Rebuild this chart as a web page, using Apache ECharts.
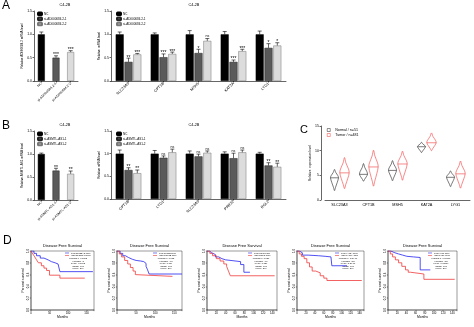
<!DOCTYPE html>
<html><head><meta charset="utf-8">
<script src="https://cdn.jsdelivr.net/npm/echarts@6/dist/echarts.min.js"></script>
<style>html,body{margin:0;padding:0;background:#fff}#c{width:474px;height:327px}</style>
</head><body><div id="c"></div>
<script>
// ---------- DATA ----------
const A1_groups = ['NC', 'si-AD000684.2-1', 'si-AD000684.2-2'];
const A1_mean = [1.00, 0.50, 0.62];
const A1_err = [0.05, 0.04, 0.03];
const A1_sig = ['', '***', '***'];

const A2_genes = ['SLC23A3', 'CPT1B', 'MSH5', 'KAT2A', 'LYG1'];
const A2_nc = [1.00, 1.00, 1.00, 1.00, 1.00];
const A2_nc_err = [0.05, 0.03, 0.08, 0.06, 0.07];
const A2_si1 = [0.41, 0.51, 0.60, 0.41, 0.71];
const A2_si1_err = [0.08, 0.07, 0.08, 0.04, 0.09];
const A2_si1_sig = ['**', '***', '*', '***', '*'];
const A2_si2 = [0.57, 0.58, 0.86, 0.64, 0.76];
const A2_si2_err = [0.02, 0.04, 0.05, 0.04, 0.06];
const A2_si2_sig = ['***', '***', 'ns', '***', '*'];

const B1_groups = ['NC', 'si-ASMTL-AS1-1', 'si-ASMTL-AS1-2'];
const B1_mean = [1.00, 0.64, 0.57];
const B1_err = [0.02, 0.05, 0.06];
const B1_sig = ['', '**', '**'];

const B2_genes = ['CPT1B', 'LYG1', 'SLC23A3', 'PRR22', 'RGL2'];
const B2_nc = [1.00, 1.00, 1.00, 1.00, 1.00];
const B2_nc_err = [0.08, 0.07, 0.06, 0.04, 0.03];
const B2_si1 = [0.64, 0.91, 0.94, 0.90, 0.74];
const B2_si1_err = [0.05, 0.04, 0.05, 0.11, 0.06];
const B2_si1_sig = ['**', 'ns', 'ns', 'ns', '**'];
const B2_si2 = [0.57, 1.03, 1.02, 1.03, 0.71];
const B2_si2_err = [0.07, 0.07, 0.04, 0.05, 0.08];
const B2_si2_sig = ['**', 'ns', 'ns', 'ns', '**'];

const C_genes = ['SLC23A3', 'CPT1B', 'MSH5', 'KAT2A', 'LYG1'];
const C_normal_min = [1.9, 3.8, 3.9, 9.6, 2.7];
const C_normal_med = [4.5, 5.2, 6.0, 10.8, 4.6];
const C_normal_max = [6.2, 7.4, 8.0, 11.7, 5.9];
const C_tumor_min = [2.3, 2.8, 4.0, 10.0, 2.4];
const C_tumor_med = [5.5, 6.7, 7.3, 11.6, 5.3];
const C_tumor_max = [8.6, 10.1, 9.9, 13.6, 7.9];
const C_ticks = [0, 5, 10, 15];

const D_genes = ['SLC23A3', 'CPT1B', 'MSH5', 'KAT2A', 'LYG1'];
const D_stats = [
  'Logrank p=0.0052\nHR(high)=2\np(HR)=0.0062\nn(high)=246\nn(low)=246',
  'Logrank p=0.013\nHR(high)=1.8\np(HR)=0.014\nn(high)=246\nn(low)=246',
  'Logrank p=0.037\nHR(high)=1.6\np(HR)=0.039\nn(high)=246\nn(low)=246',
  'Logrank p=1.2e-07\nHR(high)=3.3\np(HR)=5.3e-07\nn(high)=246\nn(low)=246',
  'Logrank p=0.00061\nHR(high)=2.3\np(HR)=0.00089\nn(high)=246\nn(low)=246'
];
const D1_low = [[0,1],[8,0.96],[15,0.92],[25,0.88],[35,0.85],[46,0.82],[55,0.8],[65,0.78],[73,0.76],[78,0.65],[167,0.65]];
const D1_high = [[0,1],[5,0.95],[10,0.9],[15,0.85],[20,0.8],[28,0.75],[35,0.71],[42,0.67],[50,0.59],[78,0.54],[145,0.54]];
const D2_low = [[0,1],[8,0.96],[15,0.92],[22,0.89],[30,0.86],[40,0.84],[50,0.83],[62,0.82],[70,0.79],[76,0.74],[80,0.68],[84,0.61],[170,0.61]];
const D2_high = [[0,1],[6,0.95],[12,0.9],[20,0.84],[28,0.78],[35,0.72],[42,0.66],[48,0.6],[52,0.57],[145,0.57]];
const D3_low = [[0,1],[5,0.97],[10,0.94],[18,0.9],[25,0.87],[32,0.85],[40,0.82],[72,0.77],[79,0.64],[92,0.64]];
const D3_high = [[0,1],[6,0.96],[12,0.92],[20,0.87],[28,0.83],[36,0.78],[42,0.74],[46,0.66],[50,0.58],[145,0.58]];
const D4_low = [[0,1],[5,0.97],[12,0.93],[25,0.92],[48,0.91],[63,0.9],[76,0.88],[78,0.75],[112,0.75]];
const D4_high = [[0,1],[5,0.95],[10,0.91],[16,0.87],[22,0.8],[28,0.73],[34,0.66],[42,0.63],[52,0.58],[60,0.54],[67,0.5],[145,0.5]];
const D5_low = [[0,1],[6,0.97],[15,0.95],[23,0.93],[32,0.91],[41,0.9],[55,0.89],[70,0.68],[92,0.68]];
const D5_high = [[0,1],[5,0.95],[10,0.9],[16,0.85],[23,0.8],[30,0.74],[38,0.68],[44,0.64],[49,0.61],[78,0.52],[145,0.52]];
const D_low = [D1_low, D2_low, D3_low, D4_low, D5_low];
const D_high = [D1_high, D2_high, D3_high, D4_high, D5_high];

// ---------- LAYOUT / STYLE ----------
const FONT = 'Arial, "Liberation Sans", sans-serif';
const BAR_FILL = ['#000000', '#5a5a5a', '#dcdcdc'];
const BAR_BORDER = ['#000000', '#222222', '#777777'];
const BLUE = '#2424f0', RED = '#f03a3a';

const grids = [
  {left: 34, top: 11, width: 44, height: 70},    // A1
  {left: 111, top: 11, width: 175, height: 70},  // A2
  {left: 34, top: 131, width: 44, height: 69},   // B1
  {left: 111, top: 131, width: 175, height: 68}, // B2
  {left: 325, top: 126, width: 145, height: 74}  // C
];
const KM = [
  {left: 31, width: 63, max: 170, interval: 50},
  {left: 117, width: 65, max: 170, interval: 50},
  {left: 207, width: 70, max: 150, interval: 20},
  {left: 297, width: 67, max: 150, interval: 20},
  {left: 388, width: 69, max: 150, interval: 20}
];
KM.forEach(k => grids.push({left: k.left, top: 251, width: k.width, height: 59, show: true, borderColor: '#000', borderWidth: 0.4}));

const xAxes = [], yAxes = [], series = [], legends = [], graphics = [];

function barY(gi, name, gap) {
  return {type: 'value', gridIndex: gi, min: 0, max: 1.5, interval: 0.5,
    name: name, nameLocation: 'middle', nameGap: gap,
    nameTextStyle: {fontSize: 3, fontFamily: FONT, color: '#000'},
    axisLine: {show: true, lineStyle: {color: '#000', width: 0.6}},
    axisTick: {show: true, length: 1.5, lineStyle: {color: '#000', width: 0.6}},
    axisLabel: {fontSize: 3.5, margin: 2, color: '#000', fontFamily: FONT, formatter: v => v.toFixed(1)},
    splitLine: {show: false}};
}
function barX(gi, cats, fs) {
  return {type: 'category', gridIndex: gi, data: cats,
    axisLine: {lineStyle: {color: '#000', width: 0.6}},
    axisTick: {show: true, alignWithLabel: true, length: 1.5, lineStyle: {color: '#000', width: 0.6}},
    axisLabel: {rotate: 45, fontSize: fs, margin: 2, color: '#000', fontFamily: FONT, interval: 0}};
}
function errSeries(ai, means, errs, sigs, offset) {
  return {type: 'custom', xAxisIndex: ai, yAxisIndex: ai, z: 5, silent: true,
    data: means.map((m, i) => m === '-' ? null : [i, m, errs[i]]).filter(d => d),
    renderItem: (params, api) => {
      const i = api.value(0), m = api.value(1), e = api.value(2);
      const p0 = api.coord([i, m]), p1 = api.coord([i, m + e]);
      const x = p0[0] + offset, cap = 2;
      const ch = [
        {type: 'line', shape: {x1: x, y1: p0[1], x2: x, y2: p1[1]}, style: {stroke: '#000', lineWidth: 0.6}},
        {type: 'line', shape: {x1: x - cap, y1: p1[1], x2: x + cap, y2: p1[1]}, style: {stroke: '#000', lineWidth: 0.6}}
      ];
      const s = sigs[i];
      if (s) {
        const star = s !== 'ns';
        ch.push({type: 'text', x: x, y: p1[1] + (star ? 1.6 : -0.4),
          style: {text: s, fontSize: star ? 5 : 3.6, fontFamily: FONT, fill: '#000', align: 'center', verticalAlign: 'bottom'}});
      }
      return {type: 'group', children: ch};
    }};
}

function singlePanel(ai, cats, means, errs, sigs, yname, title) {
  xAxes.push(barX(ai, cats, 3.4));
  yAxes.push(barY(ai, yname, 9));
  cats.forEach((c, k) => {
    series.push({type: 'bar', name: c, xAxisIndex: ai, yAxisIndex: ai, barWidth: 7, barGap: '-100%',
      itemStyle: {color: BAR_FILL[k], borderColor: BAR_BORDER[k], borderWidth: 0.5},
      data: means.map((v, j) => j === k ? v : '-')});
  });
  series.push(errSeries(ai, means, errs, sigs, 0));
  legends.push({left: grids[ai].left + 3, top: grids[ai].top + 0.5, orient: 'vertical', padding: 0,
    itemWidth: 4, itemHeight: 2.6, itemGap: 0.5, selectedMode: false,
    textStyle: {fontSize: 3, fontFamily: FONT, color: '#000', padding: [0, 0, 0, -3]}, data: cats});
  graphics.push({type: 'text', x: grids[ai].left + 31, y: grids[ai].top - 8,
    style: {text: title, fontSize: 3.8, fontFamily: FONT, fill: '#000', align: 'center'}});
}
function groupPanel(ai, genes, names, vals, errs, sigs, yname, title) {
  xAxes.push(barX(ai, genes, 3.8));
  yAxes.push(barY(ai, yname, 9));
  const bw = 8;
  names.forEach((n, k) => {
    series.push({type: 'bar', name: n, xAxisIndex: ai, yAxisIndex: ai, barWidth: bw, barGap: '10%',
      itemStyle: {color: BAR_FILL[k], borderColor: BAR_BORDER[k], borderWidth: 0.5}, data: vals[k]});
  });
  names.forEach((n, k) => series.push(errSeries(ai, vals[k], errs[k], sigs[k], (k - 1) * bw * 1.1)));
  legends.push({left: grids[ai].left + 5, top: grids[ai].top + 0.5, orient: 'vertical', padding: 0,
    itemWidth: 4, itemHeight: 2.6, itemGap: 0.5, selectedMode: false,
    textStyle: {fontSize: 3, fontFamily: FONT, color: '#000', padding: [0, 0, 0, -3]}, data: names});
  graphics.push({type: 'text', x: 194, y: grids[ai].top - 8,
    style: {text: title, fontSize: 3.8, fontFamily: FONT, fill: '#000', align: 'center'}});
}

singlePanel(0, A1_groups, A1_mean, A1_err, A1_sig, 'Relative AD000684.2 mRNA level', 'C4-2B');
groupPanel(1, A2_genes, A1_groups, [A2_nc, A2_si1, A2_si2], [A2_nc_err, A2_si1_err, A2_si2_err],
  [['', '', '', '', ''], A2_si1_sig, A2_si2_sig], 'Relative  mRNA level', 'C4-2B');
singlePanel(2, B1_groups, B1_mean, B1_err, B1_sig, 'Relative ASMTL-AS1 mRNA level', 'C4-2B');
groupPanel(3, B2_genes, B1_groups, [B2_nc, B2_si1, B2_si2], [B2_nc_err, B2_si1_err, B2_si2_err],
  [['', '', '', '', ''], B2_si1_sig, B2_si2_sig], 'Relative mRNA level', 'C4-2B');

// ---- Panel C: violins ----
xAxes.push({type: 'category', gridIndex: 4, data: C_genes,
  axisLine: {lineStyle: {color: '#000', width: 0.6}}, axisTick: {show: false},
  axisLabel: {fontSize: 3.8, margin: 3, color: '#000', fontFamily: FONT, interval: 0}});
yAxes.push({type: 'value', gridIndex: 4, min: 0, max: 15, interval: 5, offset: 4,
  name: 'Relative  expression level', nameLocation: 'middle', nameGap: 8,
  nameTextStyle: {fontSize: 3.2, fontFamily: FONT, color: '#000'},
  axisLine: {show: true, lineStyle: {color: '#000', width: 0.6}},
  axisTick: {show: true, length: 1.5, lineStyle: {color: '#000', width: 0.6}},
  axisLabel: {fontSize: 3.5, margin: 2, color: '#000', fontFamily: FONT,
    formatter: v => C_ticks.indexOf(v) >= 0 ? String(v) : ''},
  splitLine: {show: false}});
function violin(name, mins, meds, maxs, offset, color, w) {
  return {type: 'custom', name: name, xAxisIndex: 4, yAxisIndex: 4, silent: true,
    itemStyle: {color: '#fff', borderColor: color},
    data: mins.map((v, i) => [i, v, meds[i], maxs[i]]),
    renderItem: (params, api) => {
      const i = api.value(0), lo = api.value(1), md = api.value(2), hi = api.value(3);
      const cx = api.coord([i, md])[0] + offset;
      const y = v => api.coord([i, v])[1];
      const right = [[cx, y(hi)], [cx + 0.3 * w, y(md + 0.65 * (hi - md))], [cx + 0.85 * w, y(md + 0.25 * (hi - md))],
        [cx + w, y(md)], [cx + 0.7 * w, y(md - 0.35 * (md - lo))], [cx + 0.25 * w, y(md - 0.75 * (md - lo))], [cx, y(lo)]];
      const left = right.slice(1, -1).reverse().map(p => [2 * cx - p[0], p[1]]);
      return {type: 'group', children: [
        {type: 'polygon', shape: {points: right.concat(left), smooth: 0.35}, style: {fill: 'none', stroke: color, lineWidth: 0.6}},
        {type: 'line', shape: {x1: cx - w, y1: y(md), x2: cx + w, y2: y(md)}, style: {stroke: color, lineWidth: 0.6}}
      ]};
    }};
}
series.push(violin('Normal / n=51', C_normal_min, C_normal_med, C_normal_max, -5, '#222', 4));
series.push(violin('Tumor / n=481', C_tumor_min, C_tumor_med, C_tumor_max, 5, RED, 4.7));
legends.push({left: 327, top: 128, orient: 'vertical', padding: 0, itemWidth: 3, itemHeight: 3, itemGap: 1,
  selectedMode: false, textStyle: {fontSize: 3.6, fontFamily: FONT, color: '#000'},
  data: [{name: 'Normal / n=51', icon: 'rect', itemStyle: {color: '#fff', borderColor: '#222', borderWidth: 0.5}},
         {name: 'Tumor / n=481', icon: 'rect', itemStyle: {color: '#fff', borderColor: RED, borderWidth: 0.5}}]});

// ---- Panel D: Kaplan-Meier ----
KM.forEach((k, n) => {
  const gi = 5 + n;
  xAxes.push({type: 'value', gridIndex: gi, min: 0, max: k.max, interval: k.interval,
    name: 'Months', nameLocation: 'middle', nameGap: 6,
    nameTextStyle: {fontSize: 3.4, fontFamily: FONT, color: '#000'},
    axisLine: {onZero: false, lineStyle: {color: '#000', width: 0.4}},
    axisTick: {length: 1.2, lineStyle: {color: '#000', width: 0.4}},
    axisLabel: {fontSize: 2.8, margin: 1.5, color: '#000', fontFamily: FONT,
      formatter: v => v % k.interval === 0 ? String(v) : ''},
    splitLine: {show: false}});
  yAxes.push({type: 'value', gridIndex: gi, min: 0, max: 1, interval: 0.2,
    name: 'Percent survival', nameLocation: 'middle', nameGap: 6.5,
    nameTextStyle: {fontSize: 3.4, fontFamily: FONT, color: '#000'},
    axisLine: {show: true, onZero: false, lineStyle: {color: '#000', width: 0.4}},
    axisTick: {show: true, length: 1.2, lineStyle: {color: '#000', width: 0.4}},
    axisLabel: {rotate: 90, fontSize: 2.8, margin: 1.5, color: '#000', fontFamily: FONT, formatter: v => v.toFixed(1)},
    splitLine: {show: false}});
  const lowName = 'Low ' + D_genes[n] + ' TPM', highName = 'High ' + D_genes[n] + ' TPM';
  series.push({type: 'line', name: lowName, xAxisIndex: gi, yAxisIndex: gi, data: D_low[n], step: 'end',
    symbol: 'none', silent: true, lineStyle: {color: BLUE, width: 0.8}, itemStyle: {color: BLUE}});
  series.push({type: 'line', name: highName, xAxisIndex: gi, yAxisIndex: gi, data: D_high[n], step: 'end',
    symbol: 'none', silent: true, lineStyle: {color: RED, width: 0.8}, itemStyle: {color: RED}});
  const right = k.left + k.width;
  legends.push({left: right - 29, top: 252, orient: 'vertical', padding: 0, itemWidth: 4, itemHeight: 0.6,
    itemGap: 0.3, selectedMode: false, textStyle: {fontSize: 2.2, fontFamily: FONT, color: '#000', padding: [0, 0, 0, -3]},
    data: [{name: lowName, icon: 'rect'}, {name: highName, icon: 'rect'}]});
  graphics.push({type: 'text', x: right - 16, y: 257.5,
    style: {text: D_stats[n], fontSize: 2.2, lineHeight: 2.5, fontFamily: FONT, fill: '#000', align: 'center'}});
  graphics.push({type: 'text', x: k.left + k.width / 2, y: 244,
    style: {text: 'Disease Free Survival', fontSize: 4, fontFamily: FONT, fill: '#000', align: 'center'}});
});

// panel letters
[['A', 2, 0, 12], ['B', 2, 120, 12], ['C', 300, 124, 11], ['D', 3, 235, 12]].forEach(l => {
  graphics.push({type: 'text', x: l[1], y: l[2], style: {text: l[0], fontSize: l[3], fontFamily: FONT, fill: '#000'}});
});

const chart = echarts.init(document.getElementById('c'), null, {renderer: 'canvas'});
chart.setOption({
  animation: false,
  backgroundColor: '#fff',
  textStyle: {fontFamily: FONT},
  grid: grids, xAxis: xAxes, yAxis: yAxes, series: series, legend: legends, graphic: graphics
});
</script></body></html>
